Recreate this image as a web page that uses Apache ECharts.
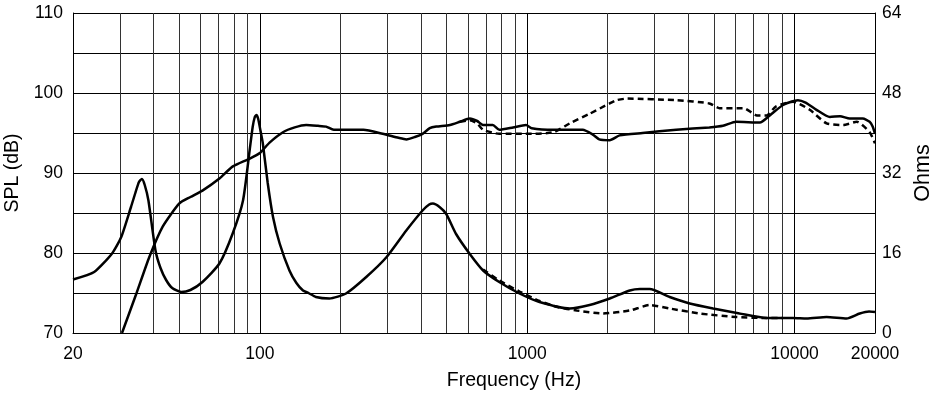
<!DOCTYPE html>
<html>
<head>
<meta charset="utf-8">
<script src="https://cdn.jsdelivr.net/npm/echarts@6/dist/echarts.min.js"></script>
<style>
  html, body { margin: 0; padding: 0; background: #fff; }
  #main { width: 934px; height: 398px; }
</style>
</head>
<body>
<div id="main"></div>
<script>
// frequency (Hz) / SPL (dB), solid trace
const splFreq = [30.5, 34.5, 38.6, 43.3, 50, 55, 61, 70.6, 79, 91.6, 100, 108.7, 122, 135, 149, 165, 177, 189, 244, 288, 330, 353, 380, 406, 432, 457, 514, 560, 610, 650, 684, 744, 786, 886, 990, 1040, 1254, 1614, 1760, 1860, 2036, 2218, 2700, 3610, 4800, 5400, 6050, 7420, 8080, 9060, 10300, 11000, 12080, 13560, 14800, 16080, 18000, 19100, 19600, 20000];
const splSolid = [70, 74.9, 79.5, 83.3, 86.2, 87.0, 87.8, 89.3, 90.8, 91.8, 92.5, 93.8, 95.1, 95.7, 96.0, 95.9, 95.8, 95.4, 95.4, 94.9, 94.4, 94.2, 94.5, 94.9, 95.6, 95.8, 96.0, 96.4, 96.8, 96.5, 96.0, 96.0, 95.4, 95.7, 96.0, 95.6, 95.4, 95.4, 94.8, 94.2, 94.1, 94.7, 95.0, 95.4, 95.7, 95.9, 96.4, 96.3, 97.2, 98.5, 99.1, 98.8, 97.9, 97.0, 97.1, 96.8, 96.8, 96.4, 95.8, 94.9];

// SPL, dashed trace (only where it leaves the solid one)
const splDashFreq = [560, 610, 650, 684, 786, 1020, 1254, 1442, 1712, 2036, 2157, 2360, 3610, 4800, 5240, 6460, 7230, 7860, 8510, 9880, 11400, 13180, 15220, 17100, 19100, 20000];
const splDashed = [96.4, 96.6, 96.2, 95.4, 94.9, 94.9, 95.1, 96.2, 97.4, 98.7, 99.1, 99.3, 99.1, 98.7, 98.1, 98.1, 97.2, 97.2, 98.3, 98.9, 97.9, 96.2, 96.0, 96.4, 95.1, 93.7];

// impedance (Ohms), solid trace
const impFreq = [20, 24, 28, 30.3, 33, 34.3, 35.3, 36.2, 37.1, 38.3, 40.7, 42.5, 44.6, 47, 50.8, 55, 61, 70.6, 79, 86.5, 91.6, 94, 95.6, 97, 98.5, 100.5, 102.6, 107, 112, 118.6, 129, 137, 145, 152, 162, 182, 210, 250, 298, 353, 406, 430, 444, 470, 498, 542, 610, 684, 786, 936, 1112, 1442, 1712, 2036, 2420, 2640, 2873, 3413, 4056, 4961, 6227, 7860, 9880, 11100, 13180, 15650, 17540, 19000, 20000];
const impSolid = [10.7, 12.2, 15.9, 19.2, 25.3, 28.2, 30.2, 30.8, 29.6, 26.5, 16.5, 13.0, 10.6, 9.0, 8.2, 8.6, 10.2, 13.9, 19.8, 26.5, 36.6, 41.2, 43.1, 43.6, 42.9, 40.5, 37.9, 30.0, 23.2, 17.9, 12.5, 10.0, 8.5, 8.0, 7.2, 6.9, 7.9, 11.2, 15.2, 20.5, 24.5, 25.7, 25.9, 25.2, 23.8, 19.8, 15.8, 12.5, 10.2, 7.9, 6.2, 4.9, 5.6, 6.9, 8.5, 8.8, 8.8, 7.2, 5.9, 4.9, 3.9, 3.0, 3.0, 2.9, 3.2, 2.9, 3.9, 4.3, 4.2];

// impedance, dashed trace
const impDashFreq = [684, 786, 936, 1112, 1300, 1532, 1920, 2420, 2873, 3413, 4420, 6050, 7860, 9000];
const impDashed = [12.7, 10.5, 8.3, 6.4, 5.2, 4.5, 3.9, 4.5, 5.6, 4.9, 3.9, 3.2, 3.0, 3.0];

// vertical grid lines between the decade lines
const gridFreqs = [30, 40, 50, 60, 70, 80, 90, 200, 300, 400, 500, 600, 700, 800, 900, 2000, 3000, 4000, 5000, 6000, 7000, 8000, 9000];

const pair = (xs, ys) => xs.map((x, i) => [x, ys[i]]);

const font = 'Liberation Sans, Arial, sans-serif';
const chart = echarts.init(document.getElementById('main'));

const curve = {
  type: 'line',
  showSymbol: false,
  smooth: 0.2,
  silent: true,
  z: 10,
  lineStyle: { color: '#000', width: 2.5 }
};

chart.setOption({
  animation: false,
  grid: { left: 73, right: 59, top: 13, bottom: 65, containLabel: false, outerBoundsMode: 'none' },
  xAxis: {
    type: 'log',
    logBase: 10,
    min: 20,
    max: 20000,
    name: 'Frequency (Hz)',
    nameLocation: 'middle',
    nameGap: 38,
    nameTextStyle: { fontFamily: font, fontSize: 19.5, color: '#000', padding: [0, 0, 0, 80] },
    axisLine: { lineStyle: { color: '#000', width: 1 } },
    axisTick: { show: false },
    axisLabel: {
      fontFamily: font, fontSize: 17.5, color: '#000', margin: 12,
      showMinLabel: true, showMaxLabel: true,
      formatter: v => String(Math.round(v))
    },
    splitLine: { show: true, lineStyle: { color: '#000', width: 1 } },
    minorTick: { show: false },
    minorSplitLine: { show: false }
  },
  yAxis: [{
    type: 'value',
    min: 70,
    max: 110,
    interval: 5,
    name: 'SPL (dB)',
    nameLocation: 'middle',
    nameRotate: 90,
    nameGap: 46,
    nameTextStyle: { fontFamily: font, fontSize: 19.5, color: '#000' },
    axisLine: { show: true, lineStyle: { color: '#000', width: 1 } },
    axisTick: { show: false },
    axisLabel: {
      fontFamily: font, fontSize: 17.5, color: '#000', margin: 10,
      formatter: v => (v % 10 === 0 ? String(v) : '')
    },
    splitLine: { show: true, lineStyle: { color: '#000', width: 1 } }
  }, {
    type: 'value',
    position: 'right',
    min: 0,
    max: 64,
    interval: 8,
    name: 'Ohms',
    nameLocation: 'middle',
    nameRotate: 90,
    nameGap: 31,
    nameTextStyle: { fontFamily: font, fontSize: 21.5, color: '#000' },
    axisLine: { show: true, lineStyle: { color: '#000', width: 1 } },
    axisTick: { show: false },
    axisLabel: {
      fontFamily: font, fontSize: 17.5, color: '#000', margin: 7,
      formatter: v => (v % 16 === 0 ? String(v) : '')
    },
    splitLine: { show: false }
  }],
  series: [
    {
      // holder for the minor vertical grid lines
      type: 'line',
      data: [],
      z: 1,
      silent: true,
      markLine: {
        silent: true,
        z: 1,
        symbol: ['none', 'none'],
        label: { show: false },
        emphasis: { disabled: true },
        lineStyle: { color: '#333', width: 1, type: 'solid' },
        data: gridFreqs.map(f => ({ xAxis: f }))
      }
    },
    Object.assign({}, curve, { name: 'Impedance dashed', yAxisIndex: 1, data: pair(impDashFreq, impDashed),
      lineStyle: { color: '#000', width: 2.5, type: [6, 4] } }),
    Object.assign({}, curve, { name: 'SPL dashed', yAxisIndex: 0, data: pair(splDashFreq, splDashed),
      lineStyle: { color: '#000', width: 2.5, type: [6, 4] } }),
    Object.assign({}, curve, { name: 'Impedance', yAxisIndex: 1, data: pair(impFreq, impSolid) }),
    Object.assign({}, curve, { name: 'SPL', yAxisIndex: 0, data: pair(splFreq, splSolid) })
  ]
});
</script>
</body>
</html>
